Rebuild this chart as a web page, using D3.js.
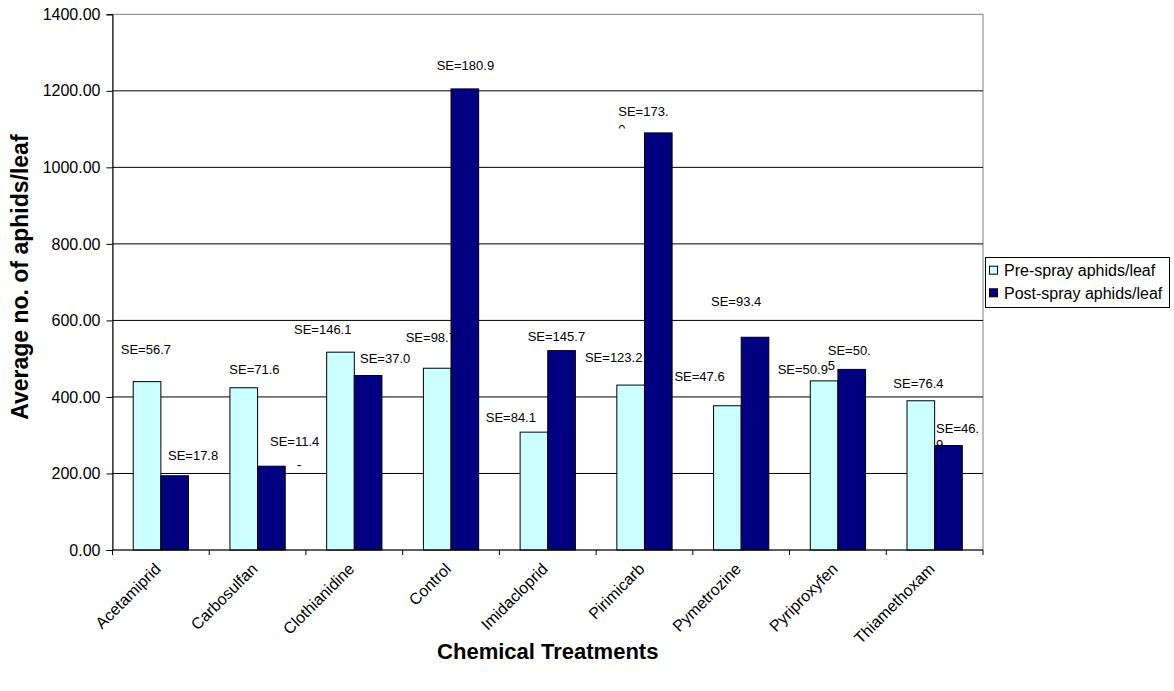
<!DOCTYPE html>
<html>
<head>
<meta charset="utf-8">
<script src="https://cdn.jsdelivr.net/npm/d3@7"></script>
<style>
  body { margin: 0; background: #fff; }
  text { font-family: "Liberation Sans", Arial, sans-serif; }
</style>
</head>
<body>
<div id="chart"></div>
<script>
const treatments = ["Acetamiprid", "Carbosulfan", "Clothianidine", "Control", "Imidacloprid",
  "Pirimicarb", "Pymetrozine", "Pyriproxyfen", "Thiamethoxam"];
const preSpray = [440, 424, 517, 475, 308, 431, 377, 442, 390];
const postSpray = [194, 219, 456, 1205, 521, 1090, 556, 472, 273];
const preSE = [56.7, 71.6, 146.1, 98.7, 84.1, 123.2, 47.6, 50.9, 76.4];
const postSE = [17.8, 11.4, 37.0, 180.9, 145.7, 173.0, 93.4, 50.5, 46.9];
const seriesNames = ["Pre-spray aphids/leaf", "Post-spray aphids/leaf"];
const yTicks = [0, 200, 400, 600, 800, 1000, 1200, 1400];

// hand-dragged label spots: [left offset from bar centre, height above bar top]
const preLabelPos = [[-26.3, 31.7], [-14.4, 18.4], [-46.5, 23], [-31.5, 31], [-48.2, 15],
  [-45.7, 27.7], [-53, 29], [-46.4, 11.4], [-27.5, 17.4]];
const postLabelPos = [[-6.7, 20.7], [-1.4, 24.6], [-8.1, 17.4], [-28.2, 23.3], [-33.9, 14],
  [-40, 21.7], [-44, 35.6], [-24, 19.3], [-12.4, 16.7]];
// labels whose text box wrapped
const postWrap = {
  1: { tail: "-", dx2: 27, dy2: 23 },
  5: { cut: 7, dx2: 0, dy2: 18, clip: 17.3 },
  7: { cut: 6, dx2: 0, dy2: 15 },
  8: { cut: 6, dx2: 0, dy2: 16 }
};

const width = 1174, height = 691;
const margin = { top: 14.3, right: 191, bottom: 141, left: 112.5 };

const svg = d3.select("#chart").append("svg")
  .attr("width", width).attr("height", height);

const x = d3.scaleBand().domain(treatments)
  .range([margin.left, width - margin.right]).paddingInner(0).paddingOuter(0);
const bw = x.bandwidth() / 3.5;
const y = d3.scaleLinear().domain([0, 1400]).range([height - margin.bottom, margin.top]);

const x0 = margin.left, x1 = width - margin.right;
const yB = y(0), yT = y(1400);

// plot frame + gridlines
svg.append("rect").attr("x", x0).attr("y", yT).attr("width", x1 - x0).attr("height", yB - yT)
  .attr("fill", "none").attr("stroke", "#808080");
svg.append("g").selectAll("line").data(yTicks.slice(1, -1)).join("line")
  .attr("x1", x0).attr("x2", x1).attr("y1", d => y(d)).attr("y2", d => y(d))
  .attr("stroke", "#000").attr("stroke-width", 1);

const rows = treatments.map((t, i) => ({ t, i, pre: preSpray[i], post: postSpray[i] }));
const colors = ["#CCFFFF", "#000080"];

const g = svg.append("g");
rows.forEach(r => {
  [r.pre, r.post].forEach((v, s) => {
    g.append("rect")
      .attr("x", x(r.t) + 0.75 * bw + s * bw)
      .attr("y", y(v))
      .attr("width", bw)
      .attr("height", y(0) - y(v))
      .attr("fill", colors[s])
      .attr("stroke", "#000").attr("stroke-width", 1);
  });
});

// axes
const yAxis = svg.append("g").attr("transform", `translate(${x0},0)`)
  .call(d3.axisLeft(y).tickValues(yTicks).tickFormat(d3.format(".2f")).tickSizeOuter(0).tickSize(6).tickPadding(6));
yAxis.select(".domain").attr("stroke", "#000");
yAxis.selectAll("text").attr("font-size", 16).attr("fill", "#000")
  .style("font-family", "'Liberation Sans', Arial, sans-serif");

const xAxis = svg.append("g").attr("transform", `translate(0,${yB})`);
xAxis.append("line").attr("x1", x0).attr("x2", x1).attr("stroke", "#000");
xAxis.selectAll(".tk").data(d3.range(treatments.length + 1)).join("line")
  .attr("x1", i => x0 + i * x.bandwidth()).attr("x2", i => x0 + i * x.bandwidth())
  .attr("y1", 0).attr("y2", 5).attr("stroke", "#000");
xAxis.selectAll(".lbl").data(treatments).join("text")
  .attr("transform", d => `translate(${x(d) + x.bandwidth() / 2 - 3},16) rotate(-45)`)
  .attr("text-anchor", "end").attr("dy", "0.35em")
  .attr("font-size", 16).attr("fill", "#000").text(d => d);

// SE labels
const defs = svg.append("defs");
const lab = svg.append("g").attr("font-size", 13).attr("fill", "#000");
function addLabel(cx, top, txt, pos, wrap, id) {
  const lx = cx + pos[0], ly = top - pos[1];
  const grp = lab.append("g");
  let l1 = txt, l2 = null;
  if (wrap) {
    if (wrap.cut) { l1 = txt.slice(0, wrap.cut); l2 = txt.slice(wrap.cut); }
    else l2 = wrap.tail;
    if (wrap.clip) {
      defs.append("clipPath").attr("id", id).append("rect")
        .attr("x", lx - 5).attr("y", ly - 30).attr("width", 80).attr("height", 30 + wrap.clip);
      grp.attr("clip-path", `url(#${id})`);
    }
  }
  grp.append("text").attr("x", lx).attr("y", ly).attr("dy", "0.35em").text(l1);
  if (l2) grp.append("text").attr("x", lx + wrap.dx2).attr("y", ly + wrap.dy2).attr("dy", "0.35em").text(l2);
}
rows.forEach(r => {
  const base = x(r.t) + 0.75 * bw;
  addLabel(base + bw / 2, y(r.pre), "SE=" + preSE[r.i].toFixed(1), preLabelPos[r.i], null, "c" + r.i);
  addLabel(base + 1.5 * bw, y(r.post), "SE=" + postSE[r.i].toFixed(1), postLabelPos[r.i], postWrap[r.i], "cp" + r.i);
});

// titles
svg.append("text").attr("x", (x0 + x1) / 2).attr("y", 651).attr("dy", "0.35em")
  .attr("text-anchor", "middle").attr("font-size", 22).attr("font-weight", "bold")
  .text("Chemical Treatments");
svg.append("text").attr("transform", `translate(20,${(yT + yB) / 2 - 5}) rotate(-90)`)
  .attr("dy", "0.35em").attr("text-anchor", "middle").attr("font-size", 23).attr("font-weight", "bold")
  .text("Average no. of aphids/leaf");

// legend
const leg = svg.append("g");
leg.append("rect").attr("x", 985.5).attr("y", 257.5).attr("width", 184).attr("height", 50)
  .attr("fill", "#fff").attr("stroke", "#000");
seriesNames.forEach((n, s) => {
  const cy = 270.7 + s * 22.6;
  leg.append("rect").attr("x", 989.5).attr("y", cy - 4.5).attr("width", 8).attr("height", 8)
    .attr("fill", colors[s]).attr("stroke", "#000");
  leg.append("text").attr("x", 1004).attr("y", cy).attr("dy", "0.35em")
    .attr("font-size", 16).attr("fill", "#000").text(n);
});
</script>
</body>
</html>
